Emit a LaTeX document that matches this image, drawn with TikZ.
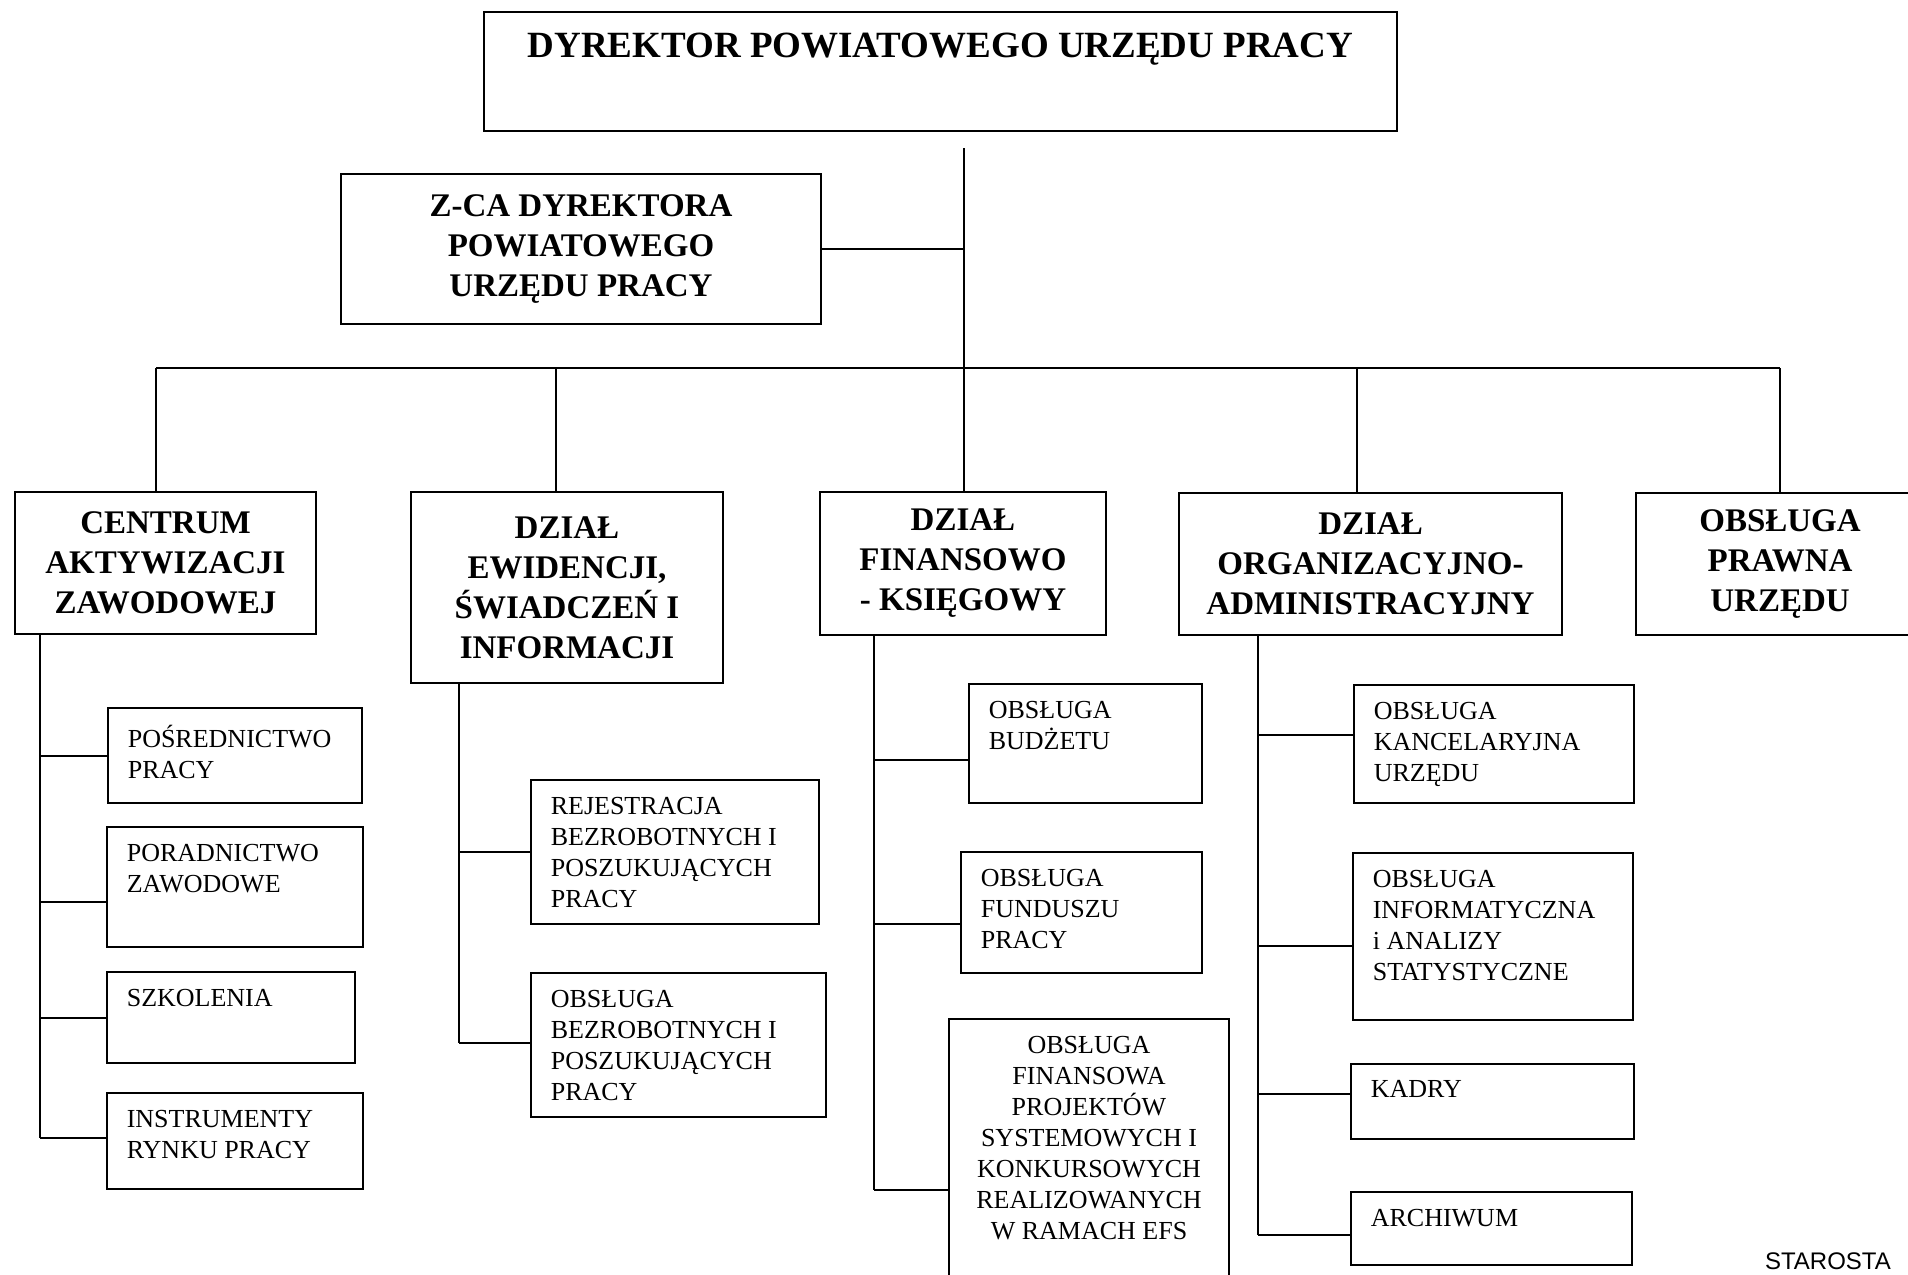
\documentclass[tikz,border=0pt]{standalone}
\usepackage{fontspec}
\setmainfont{Liberation Serif}
\newfontfamily\starfont{Liberation Sans}

\begin{document}
\begin{tikzpicture}[x=1pt,y=-1pt,line width=2pt,
    dims/.style 2 args={minimum width=#1pt,minimum height=#2pt},
    head/.style={draw,line width=2.4pt,align=center,inner sep=0pt,
        font=\fontsize{33}{40}\selectfont\bfseries},
    sub/.style={draw,line width=2.4pt,inner sep=0pt},
    subfont/.style={inner sep=0pt,yshift=-17pt,font=\fontsize{26}{31}\selectfont},
    subtxt/.style={subfont,anchor=north west,align=left,xshift=20pt}]
    \useasboundingbox (0,0) rectangle (1908,1274);

    % kierownictwo
    \node[head,dims={913}{119},label={[anchor=north,inner sep=0pt,yshift=-21pt,
        font=\fontsize{37}{44}\selectfont\bfseries]north:DYREKTOR POWIATOWEGO URZĘDU PRACY}]
        (dyr) at (940.5,71.5) {};
    \node[head,dims={480}{150}] (zca) at (581,249) {Z-CA DYREKTORA\\POWIATOWEGO\\URZĘDU PRACY};

    % dzialy
    \node[head,dims={301}{142}] (centrum) at (165.5,563)   {CENTRUM\\AKTYWIZACJI\\ZAWODOWEJ};
    \node[head,dims={312}{191}] (ewid)    at (567,587.5)   {DZIAŁ\\EWIDENCJI,\\ŚWIADCZEŃ I\\INFORMACJI};
    \node[head,dims={286}{143}] (fin)     at (963,563.5)   {DZIAŁ\\FINANSOWO\\- KSIĘGOWY};
    \node[head,dims={383}{142}] (org)     at (1370.5,564)  {DZIAŁ\\ORGANIZACYJNO-\\ADMINISTRACYJNY};
    \node[head,dims={288}{142}] (prawna)  at (1780,564)    {OBSŁUGA\\PRAWNA\\URZĘDU};

    % stanowiska
    \node[sub,dims={254}{95},label={[subtxt]north west:POŚREDNICTWO\\PRACY}] (posr) at (235,755.5) {};
    \node[sub,dims={256}{120},label={[subtxt]north west:PORADNICTWO\\ZAWODOWE}] (porad) at (235,887) {};
    \node[sub,dims={248}{91},label={[subtxt]north west:SZKOLENIA}] (szkol) at (231,1017.5) {};
    \node[sub,dims={256}{96},label={[subtxt]north west:INSTRUMENTY\\RYNKU PRACY}] (instr) at (235,1141) {};

    \node[sub,dims={288}{144},label={[subtxt]north west:REJESTRACJA\\BEZROBOTNYCH I\\POSZUKUJĄCYCH\\PRACY}] (rej) at (675,852) {};
    \node[sub,dims={295}{144},label={[subtxt]north west:OBSŁUGA\\BEZROBOTNYCH I\\POSZUKUJĄCYCH\\PRACY}] (obez) at (678.5,1045) {};

    \node[sub,dims={233}{119},label={[subtxt]north west:OBSŁUGA\\BUDŻETU}] (budz) at (1085.5,743.5) {};
    \node[sub,dims={241}{121},label={[subtxt]north west:OBSŁUGA\\FUNDUSZU\\PRACY}] (fund) at (1081.5,912.5) {};
    \node[sub,dims={280}{271},label={[subfont,anchor=north,align=center]north:OBSŁUGA\\FINANSOWA\\PROJEKTÓW\\SYSTEMOWYCH I\\KONKURSOWYCH\\REALIZOWANYCH\\W RAMACH EFS}] (proj) at (1089,1154.5) {};

    \node[sub,dims={280}{118},label={[subtxt]north west:OBSŁUGA\\KANCELARYJNA\\URZĘDU}] (kanc) at (1494,744) {};
    \node[sub,dims={280}{167},label={[subtxt]north west:OBSŁUGA\\INFORMATYCZNA\\i ANALIZY\\STATYSTYCZNE}] (info) at (1493,936.5) {};
    \node[sub,dims={283}{75},label={[subtxt]north west:KADRY}] (kadry) at (1492.5,1101.5) {};
    \node[sub,dims={281}{73},label={[subtxt]north west:ARCHIWUM}] (arch) at (1491.5,1228.5) {};

    \node[anchor=base west,inner sep=0pt,font=\starfont\fontsize{24}{28}\selectfont] (star) at (1764,1269) {STAROSTA};

    % linie
    \coordinate (trunk) at (964,148);
    \coordinate (busL) at (156,368);
    \coordinate (busR) at (1780,368);
    \draw (trunk) -- (trunk |- busL);
    \draw (busL) -- (busR);
    \draw (zca.east) -- (zca.east -| trunk);
    \foreach \n/\x in {centrum/156,ewid/556,fin/964,org/1357,prawna/1780}{
        \coordinate (d) at (\x,368);
        \draw (d) -- (d |- \n.north);
    }

    \coordinate (s1) at (40,0);
    \coordinate (s2) at (459,0);
    \coordinate (s3) at (874,0);
    \coordinate (s4) at (1258,0);
    \foreach \h/\s/\e/\d in {centrum/s1/instr/3,ewid/s2/obez/2,fin/s3/proj/-35,org/s4/arch/-6}
        \draw (\s |- \h.south) -- ([yshift=\d pt]\s |- \e.west);
    \foreach \n/\s/\d in {posr/s1/0,porad/s1/-15,szkol/s1/0,instr/s1/3,
                          rej/s2/0,obez/s2/2,
                          budz/s3/-16,fund/s3/-11,proj/s3/-35,
                          kanc/s4/9,info/s4/-9,kadry/s4/8,arch/s4/-6}
        \draw ([yshift=\d pt]\s |- \n.west) -- ([yshift=\d pt]\n.west);
\end{tikzpicture}
\end{document}
